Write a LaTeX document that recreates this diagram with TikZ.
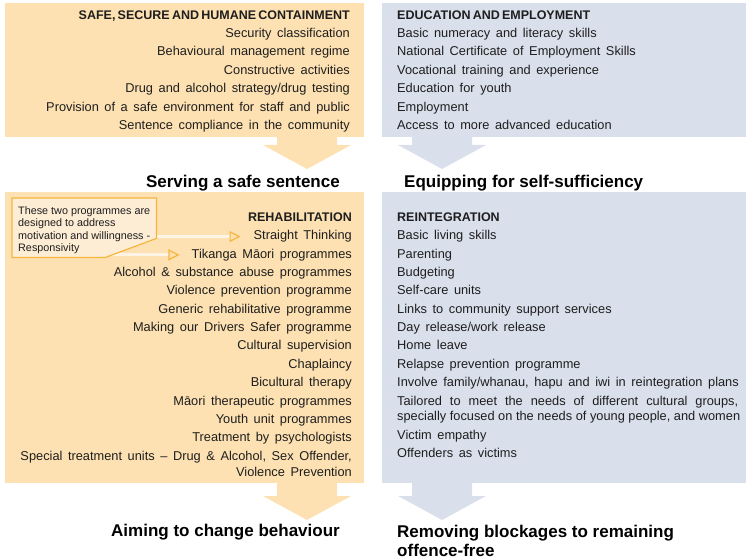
\documentclass[tikz,border=0pt]{standalone}
\usepackage{fontspec}
\setmainfont{Liberation Sans}
\usetikzlibrary{arrows.meta}

\definecolor{peach}{RGB}{253,225,178}
\definecolor{mist}{RGB}{217,223,235}
\definecolor{cream}{RGB}{253,237,213}
\definecolor{amber}{RGB}{246,182,62}
\definecolor{glow}{RGB}{254,244,229}
\definecolor{ink}{RGB}{30,30,30}

% word spacing of the list texts
\newcommand{\widespaces}{\spaceskip=5.6pt plus 1pt minus 1pt\relax}
\newcommand{\tightspaces}{\spaceskip=2.2pt\relax}
\newcommand{\plainspaces}{\spaceskip=0pt\relax}

\begin{document}
\begin{tikzpicture}[x=1pt,y=-1pt]
  \useasboundingbox (0,0) rectangle (747,559);
  \tikzstyle{panel}=[rectangle,inner sep=0,anchor=north west]
  \tikzstyle{item}=[inner sep=0,text=ink,font=\fontsize{12.8}{15}\selectfont\widespaces]
  \tikzstyle{heading}=[inner sep=0,text=ink,font=\fontsize{12.5}{14}\selectfont\bfseries\tightspaces]
  \tikzstyle{caption}=[inner sep=0,text=black,font=\fontsize{17}{19.5}\selectfont\bfseries]
  \tikzstyle{note}=[inner sep=0,text=ink,align=left,font=\fontsize{10.8}{12.5}\selectfont]
  \tikzstyle{pointer}=[draw=glow,line width=3pt,
    -{Triangle[open,length=11pt,width=11pt,color=amber,line width=1.2pt]}]

%% the four panels
  \node[panel,fill=peach,minimum width=359pt,minimum height=134pt] (containment)    at (5,3)     {};
  \node[panel,fill=mist, minimum width=364pt,minimum height=134pt] (education)      at (382,3)   {};
  \node[panel,fill=peach,minimum width=359pt,minimum height=291pt] (rehabilitation) at (5,192)   {};
  \node[panel,fill=mist, minimum width=364pt,minimum height=291pt] (reintegration)  at (382,192) {};

%% block arrows below the panels: colour, centre x, top y, stem length
  \newcommand{\flowarrow}[4]{%
    \fill[#1] (#2-30,#3) -- (#2+30,#3) -- (#2+30,#3+#4) -- (#2+44,#3+#4)
      -- (#2,#3+#4+24) -- (#2-44,#3+#4) -- (#2-30,#3+#4) -- cycle;}
  \flowarrow{peach}{307}{136}{9}
  \flowarrow{mist}{442}{136}{9}
  \flowarrow{peach}{307}{482}{14}
  \flowarrow{mist}{442}{482}{14}

%% captions
  \node[caption,anchor=base east] (serving)   at (340,187) {Serving a safe sentence};
  \node[caption,anchor=base west] (equipping) at (404,187) {Equipping for self-sufficiency};
  \node[caption,anchor=base east] (aiming)    at (340,536) {Aiming to change behaviour};
  \node[caption,anchor=north west,align=left] (removing) at (397,524.5)
    {Removing blockages to remaining\\offence-free};

%% upper panels
  \newcommand{\rowsep}{18.4}
  \newcommand{\rowofs}{19.1}
  \node[heading,anchor=base east] (containment-0) at (350,\rowofs) {SAFE, SECURE AND HUMANE CONTAINMENT};
  \foreach \n/\txt in {1/Security classification, 2/Behavioural management regime,
                       3/Constructive activities, 4/{Drug and alcohol strategy/drug testing},
                       5/Provision of a safe environment for staff and public,
                       6/Sentence compliance in the community}
    \node[item,anchor=base east] (containment-\n) at (350,\rowofs+\rowsep*\n) {\txt};

  \node[heading,anchor=base west] (education-0) at (397,\rowofs) {EDUCATION AND EMPLOYMENT};
  \foreach \n/\txt in {1/Basic numeracy and literacy skills, 2/National Certificate of Employment Skills,
                       3/Vocational training and experience, 4/Education for youth,
                       5/Employment, 6/Access to more advanced education}
    \node[item,anchor=base west] (education-\n) at (397,\rowofs+\rowsep*\n) {\txt};

%% lower panels
  \renewcommand{\rowsep}{18.35}
  \renewcommand{\rowofs}{221.5}
  \node[heading,anchor=base east] (rehab-0) at (352,\rowofs) {REHABILITATION};
  \foreach \n/\txt [count=\i] in {1/Straight Thinking, 2/Tikanga Māori programmes,
                       3/Alcohol \& substance abuse programmes, 4/Violence prevention programme,
                       5/Generic rehabilitative programme, 6/Making our Drivers Safer programme,
                       7/Cultural supervision, 8/Chaplaincy, 9/Bicultural therapy,
                       10/Māori therapeutic programmes, 11/Youth unit programmes,
                       12/Treatment by psychologists,
                       13/{Special treatment units -- Drug \& Alcohol, Sex Offender,},
                       13.87/Violence Prevention}
    \node[item,anchor=base east] (rehab-\i) at (352,\rowofs+\rowsep*\n) {\txt};

  \node[heading,anchor=base west] (reint-0) at (397,\rowofs) {REINTEGRATION};
  \foreach \n/\txt [count=\i] in {1/Basic living skills, 2/Parenting, 3/Budgeting, 4/Self-care units,
                       5/Links to community support services, 6/{Day release/work release},
                       7/Home leave, 8/Relapse prevention programme,
                       9/{Involve family/whanau, hapu and iwi in reintegration plans},
                       10/{\plainspaces\makebox[341pt][s]{Tailored to meet the needs of different cultural groups,}},
                       10.87/{\plainspaces specially focused on the needs of young people, and women},
                       11.86/Victim empathy, 12.86/Offenders as victims}
    \node[item,anchor=base west] (reint-\i) at (397,\rowofs+\rowsep*\n) {\txt};

%% callout with pointers to the two programmes
  \node[panel,minimum width=144pt,minimum height=59pt] (callout) at (12,198) {};
  \draw[pointer,shorten >=13pt] (callout.center |- rehab-1.west) -- (rehab-1.west);
  \draw[pointer,shorten >=12pt] (callout.center |- rehab-2.west) -- (rehab-2.west);
  \filldraw[fill=cream,draw=amber,line width=1.2pt]
    (callout.north west) -- (callout.north east) -- ([yshift=19pt]callout.south east)
    -- ([xshift=-51pt]callout.south east) -- (callout.south west) -- cycle;
  \node[note,anchor=north west] (callout-text) at (18,206)
    {These two programmes are\\designed to address\\motivation and willingness -\\Responsivity};
\end{tikzpicture}
\end{document}
